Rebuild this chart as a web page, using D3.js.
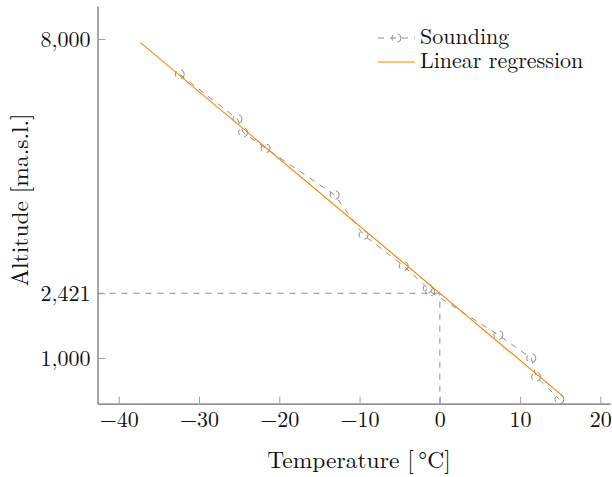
<!DOCTYPE html>
<html>
<head>
<meta charset="utf-8">
<script src="https://cdn.jsdelivr.net/npm/d3@7"></script>
<style>
  body { margin: 0; background: #fff; }
</style>
</head>
<body>
<svg id="chart" width="612" height="477"></svg>
<script>
"use strict";

// sounding data
const soundingTemp = [-32.4, -25.2, -24.5, -21.7, -13.1, -9.5, -4.5, -1.5, -1.2, 7.3, 11.4, 12.0, 14.9];
const soundingAlt  = [7226, 6245, 5953, 5602, 4578, 3700, 3020, 2530, 2460, 1505, 994, 590, 94];

// regression line end points
const regTemp = [-37.3, 15.4];
const regAlt  = [7920, 152];

// ticks
const xTicks = [-40, -30, -20, -10, 0, 10, 20];
const yTicks = [1000, 2421, 8000];
const groundAlt = 2421;



const font = "'Latin Modern Roman', 'CMU Serif', 'Liberation Serif', serif";
const fontSize = 22;
const labelSize = 23.5;
const svg = d3.select("#chart");

// scales
const scaleX = d3.scaleLinear().domain([-42.65, 21.2]).range([97.5, 610]);
const scaleY = d3.scaleLinear().domain([0, 8725]).range([403.6, 6]);

const fmt = d3.format(",");
const minus = s => String(s).replace("-", "\u2212");


// guide lines
const guide = svg.append("g").attr("class", "guide")
  .attr("stroke", "#8c8c8c").attr("stroke-width", 1).attr("stroke-dasharray", "6,6").attr("fill", "none");
guide.append("line")
  .attr("x1", scaleX(0)).attr("x2", scaleX(0))
  .attr("y1", scaleY(0)).attr("y2", scaleY(groundAlt));
guide.append("line")
  .attr("x1", scaleX(-42.65)).attr("x2", scaleX(0))
  .attr("y1", scaleY(groundAlt)).attr("y2", scaleY(groundAlt));


// axes
const xAxis = svg.append("g")
  .attr("class", "x_axis")
  .attr("transform", `translate(0, ${scaleY(0)})`)
  .call(d3.axisBottom(scaleX).tickValues(xTicks).tickSizeInner(-7).tickSizeOuter(0).tickFormat(minus));

const yAxis = svg.append("g")
  .attr("class", "y_axis")
  .attr("transform", `translate(${scaleX(-42.65)}, 0)`)
  .call(d3.axisLeft(scaleY).tickValues(yTicks).tickSizeInner(-8).tickSizeOuter(0).tickFormat(fmt));

svg.selectAll(".x_axis path, .y_axis path").attr("stroke", "#6b6b6b").attr("stroke-width", 1.2);
svg.selectAll(".tick line").attr("stroke", "#a0a0a0").attr("stroke-width", 1);
svg.selectAll(".tick text")
  .style("font-family", font)
  .style("font-size", fontSize + "px")
  .attr("fill", "#111");
xAxis.selectAll(".tick text").attr("y", 23).attr("dy", null);
yAxis.selectAll(".tick text").attr("x", -7).attr("dy", "0.32em");


// axis labels
svg.append("text")
  .attr("x", 359).attr("y", 468)
  .attr("text-anchor", "middle")
  .style("font-family", font).style("font-size", labelSize + "px")
  .attr("fill", "#111")
  .text("Temperature [\u2009\u00B0C]");

svg.append("text")
  .attr("transform", "translate(28, 200) rotate(-90)")
  .attr("text-anchor", "middle")
  .style("font-family", font).style("font-size", labelSize + "px")
  .attr("fill", "#111")
  .text("Altitude [ma.s.l.]");


// sounding line + markers
const sounding = soundingTemp.map((t, i) => ({temp: t, alt: soundingAlt[i]}));
const line = d3.line().x(d => scaleX(d.temp)).y(d => scaleY(d.alt));

svg.append("path")
  .datum(sounding)
  .attr("d", line)
  .attr("fill", "none")
  .attr("stroke", "#8c8c8c")
  .attr("stroke-width", 1)
  .attr("stroke-dasharray", "6,6");

svg.append("g").attr("class", "marks")
  .selectAll("circle")
  .data(sounding)
  .join("circle")
  .attr("cx", d => scaleX(d.temp))
  .attr("cy", d => scaleY(d.alt))
  .attr("r", 4.5)
  .attr("fill", "none")
  .attr("stroke", "#8c8c8c")
  .attr("stroke-width", 1)
  .attr("stroke-dasharray", "6,5");


// regression
const reg = regTemp.map((t, i) => ({temp: t, alt: regAlt[i]}));
svg.append("path")
  .datum(reg)
  .attr("d", line)
  .attr("fill", "none")
  .attr("stroke", "#ff8000")
  .attr("stroke-width", 1.1);


// legend
const legend = svg.append("g").attr("class", "legend").attr("transform", "translate(378, 38)");
legend.append("line")
  .attr("x1", 0).attr("x2", 37).attr("y1", 0).attr("y2", 0)
  .attr("stroke", "#8c8c8c").attr("stroke-dasharray", "6,6");
legend.append("circle")
  .attr("cx", 18.5).attr("cy", 0).attr("r", 4.5)
  .attr("fill", "none").attr("stroke", "#8c8c8c").attr("stroke-dasharray", "6,5");
legend.append("text")
  .attr("x", 42).attr("y", 6)
  .style("font-family", font).style("font-size", fontSize + "px")
  .attr("fill", "#111")
  .text("Sounding");

legend.append("line")
  .attr("x1", 0).attr("x2", 37).attr("y1", 24).attr("y2", 24)
  .attr("stroke", "#ff8000").attr("stroke-width", 1.1);
legend.append("text")
  .attr("x", 42).attr("y", 30)
  .style("font-family", font).style("font-size", fontSize + "px")
  .attr("fill", "#111")
  .text("Linear regression");
</script>
</body>
</html>
